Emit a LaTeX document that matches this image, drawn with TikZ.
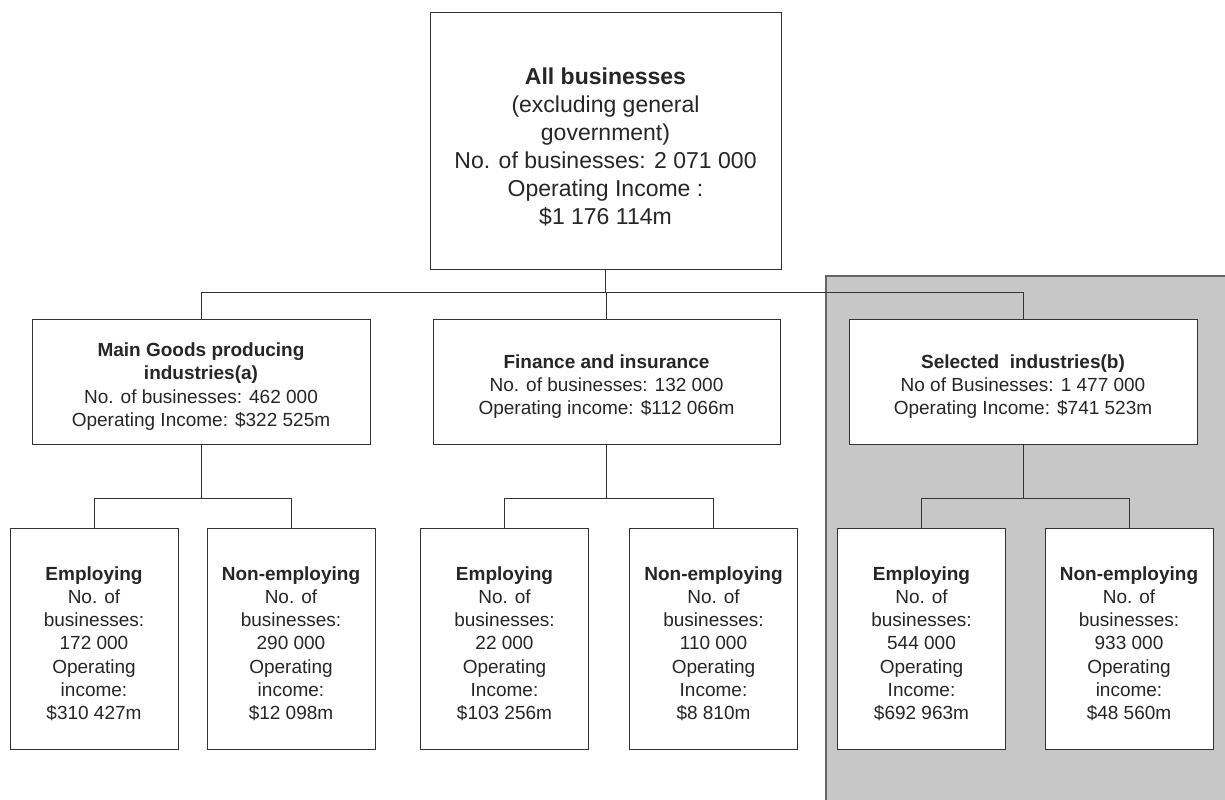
\documentclass[tikz,border=0pt]{standalone}
\usepackage{fontspec}
\setmainfont{Liberation Sans}
\usetikzlibrary{positioning}

\begin{document}
\begin{tikzpicture}[
  x=0.5pt, y=-0.5pt,
  font=\fontsize{9.5}{11.6}\selectfont,
  box/.style={draw=black!80, fill=white, line width=0.5pt, align=center,
    inner sep=0pt, text=black!85},
  topbox/.style={box, minimum width=175.5pt, minimum height=128.5pt,
    font=\fontsize{11.5}{14}\selectfont},
  midbox/.style={box, minimum width=172pt, minimum height=62.5pt},
  leafbox/.style={box, minimum width=84pt, minimum height=110.5pt},
  link/.style={draw=black!80, line width=0.5pt},
  panel/.style={fill=black!22, draw=black!60, line width=0.6pt},
]
  \useasboundingbox (0,0) rectangle (1225,799);

  % shaded panel behind the selected industries
  \fill[panel, draw=none] (826,276) rectangle (1235,810);
  \draw[panel, fill=none] (826,810) -- (826,276) -- (1235,276);

  \node[topbox] (all) at (605.5,140.5)
    {\rule{0pt}{15pt}\textbf{All businesses}\\(excluding general\\government)\\
     No. of businesses: 2 071 000\\Operating Income :\\\$1 176 114m};

  \node[midbox, minimum width=169pt] (goods) at (201,382)
    {\rule{0pt}{11.5pt}\textbf{Main Goods producing}\\\textbf{industries(a)}\\
     No. of businesses: 462 000\\Operating Income: \$322 525m};
  \node[midbox, minimum width=173.5pt] (fin) at (606.5,382)
    {\rule{0pt}{11.5pt}\textbf{Finance and insurance}\\No. of businesses: 132 000\\
     Operating income: \$112 066m};
  \node[midbox, minimum width=174pt] (sel) at (1023,382)
    {\rule{0pt}{11.5pt}\textbf{Selected~ industries(b)}\\No of Businesses: 1 477 000\\
     Operating Income: \$741 523m};

  % leaves: name/x/title/count/income word/amount
  \foreach \nm/\px/\ttl/\cnt/\inc/\amt in {
      goodsE/94/Employing/172 000/income/310 427,
      goodsN/291/Non-employing/290 000/income/12 098,
      finE/504.5/Employing/22 000/Income/103 256,
      finN/713.5/Non-employing/110 000/Income/8 810,
      selE/921.5/Employing/544 000/Income/692 963,
      selN/1129/Non-employing/933 000/income/48 560}
    \node[leafbox] (\nm) at (\px,638.5)
      {\rule{0pt}{12pt}\textbf{\ttl}\\No. of\\businesses:\\\cnt\\Operating\\\inc:\\\$\amt m};

  % connectors
  \coordinate (bus) at (0,292);
  \coordinate (sub) at (0,498);
  \draw[link] (all.south) -- (all.south |- bus);
  \draw[link] (goods.north) -- (goods.north |- bus) -- (sel.north |- bus)
    -- (sel.north);
  \draw[link] (fin.north) -- (fin.north |- bus);
  \foreach \p/\a/\b in {goods/goodsE/goodsN, fin/finE/finN, sel/selE/selN} {
    \draw[link] (\p.south) -- (\p.south |- sub);
    \draw[link] (\a.north) -- (\a.north |- sub) -- (\b.north |- sub)
      -- (\b.north);
  }
\end{tikzpicture}
\end{document}
